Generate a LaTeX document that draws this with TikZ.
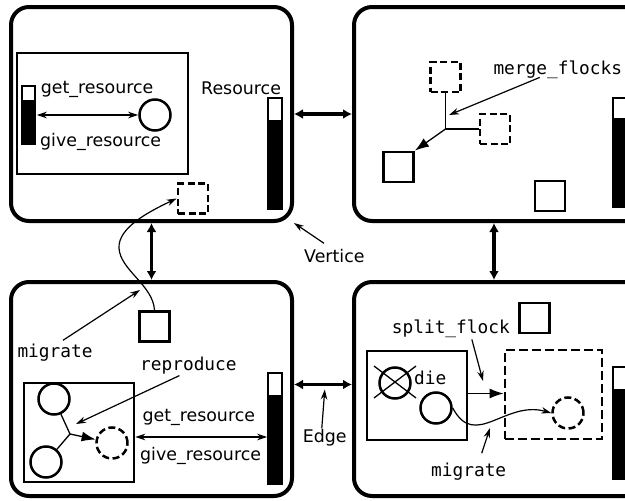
\documentclass[tikz,border=0pt]{standalone}
\usepackage{fontspec}
\setmainfont{DejaVu Sans}
\newfontfamily\monof{DejaVu Sans Mono}
\usetikzlibrary{arrows.meta,calc}
\begin{document}
\begin{tikzpicture}[x=1pt,y=-1pt,
  vbox/.style={draw, line width=4pt, rounded corners=18pt, minimum width=281pt, minimum height=214pt, inner sep=0pt},
  ibox/.style={draw, line width=2.5pt, inner sep=0pt},
  dbox/.style={draw, line width=2.8pt, inner sep=0pt, dash pattern=on 9pt off 4pt},
  sq/.style={draw, line width=2.8pt, minimum size=30pt, inner sep=0pt},
  dsq/.style={draw, line width=2.8pt, minimum size=30pt, inner sep=0pt, dash pattern=on 7pt off 3.5pt},
  circ/.style={circle, draw, line width=2.5pt, minimum size=31pt, inner sep=0pt},
  dcirc/.style={circle, draw, line width=2.5pt, minimum size=31pt, inner sep=0pt, dash pattern=on 7pt off 3.5pt},
  bar/.style={draw, line width=1.6pt, inner sep=0pt, path picture={\fill (path picture bounding box.south west) rectangle ([yshift=-#1]path picture bounding box.north east);}},
  lbl/.style={font=\fontsize{17.4}{20}\selectfont, inner sep=0pt, anchor=base west},
  mlbl/.style={font=\monof\fontsize{17.8}{20}\selectfont, inner sep=0pt, anchor=base west},
  thinarr/.style={line width=1.2pt, -{Stealth[length=10pt,width=6.5pt]}},
  dblarr/.style={line width=1.2pt, {Stealth[length=10pt,width=6.5pt]}-{Stealth[length=10pt,width=6.5pt]}},
  bigarr/.style={line width=1.3pt, -{Latex[length=14pt,width=10pt]}},
  edgearr/.style={line width=3.6pt, {Latex[length=9pt,width=10pt]}-{Latex[length=9pt,width=10pt]}},
  conn/.style={line width=1.3pt}
]
\path[use as bounding box, clip] (0,0) rectangle (625,501);

% vertices
\node[vbox] (v1) at (151.5,114) {};
\node[vbox, minimum width=346pt] (v2) at (527,114) {};
\node[vbox] (v3) at (151.5,389) {};
\node[vbox, minimum width=346pt] (v4) at (527,389) {};

% edges
\draw[edgearr] (v1.east) -- (v2.west);
\draw[edgearr] (v1.south) -- (v3.north);
\draw[edgearr] ([xshift=-33pt]v2.south) -- ([xshift=-33pt]v4.north);
\draw[edgearr] ([yshift=4.5pt]v3.east) -- ([yshift=4.5pt]v4.west);
\coordinate (em) at ($([yshift=4.5pt]v3.east)!0.5!([yshift=4.5pt]v4.west)$);

\node[lbl] (vt) at (304,262.7) {Vertice};
\draw[thinarr] (324,243.3) -- (v1.south east);
\node[lbl] (et) at (302.7,442.7) {Edge};
\draw[thinarr] ([xshift=-3pt,yshift=1pt]et.north) -- ([yshift=-5pt]em -| et.north);

% ---- top-left
\node[ibox, minimum width=171pt, minimum height=121pt] (ia) at (102.5,113.5) {};
\node[bar=14pt, minimum width=13pt, minimum height=58pt] (b1) at (28.5,115) {};
\node[circ] (c1) at (155,115) {};
\draw[dblarr] ([xshift=1pt]b1.east) -- (c1.west);
\node[lbl] (t1) at (40.7,93) {get\_resource};
\node[lbl] (t2) at (40,146) {give\_resource};
\node[lbl] (t3) at (201,94) {Resource};
\node[bar=22pt, minimum width=14pt, minimum height=111pt] (b2) at (275,153.5) {};
\node[dsq] (d1) at (193,198.5) {};

% ---- top-right
\node[dsq] (d2) at (445.5,77) {};
\node[dsq] (d3) at (495,129) {};
\node[sq] (s1) at (398.5,167) {};
\node[sq] (s2) at (550,196) {};
\node[bar=20pt, minimum width=15pt, minimum height=109pt] (b3) at (620.5,152.5) {};
\coordinate (j) at (d2.south |- d3.west);
\draw[conn] (d2.south) -- (j) -- (d3.west);
\draw[bigarr] (j) -- (s1.north east);
\node[mlbl] (t4) at (493.3,74) {merge\_flocks};
\coordinate (mfp) at (449,115);
\draw[thinarr] ([xshift=-18pt,yshift=1pt]t4.south) -- (mfp);

% ---- bottom-left
\node[sq] (s3) at (154.5,326.5) {};
\draw[thinarr] (s3.north) .. controls (153,285) and (120,270) .. (119,248)
   .. controls (118,228) and (148,212) .. (d1.west);
\node[mlbl] (t5) at (17.3,357) {migrate};
\coordinate (mgp) at (140,290);
\draw[thinarr] ([xshift=8pt,yshift=3pt]t5.north) -- (mgp);
\node[mlbl] (t6) at (140,370.7) {reproduce};
\coordinate (rpp) at (76,424);
\draw[thinarr] ([xshift=-9pt,yshift=-1pt]t6.south) -- (rpp);
\node[ibox, minimum width=110pt, minimum height=99pt] (ib) at (79,432.5) {};
\node[circ] (c2) at (54,399) {};
\node[circ] (c3) at (46,462) {};
\node[dcirc] (c4) at (112,443) {};
\coordinate (j2) at (70,434);
\draw[conn] (c2) -- (j2);
\draw[conn] (c3) -- (j2);
\draw[bigarr] (j2) -- (c4);
\node[bar=22pt, minimum width=14pt, minimum height=111pt] (b4) at (275,428.5) {};
\draw[dblarr] ([yshift=-4.5pt]ib.east) -- ([yshift=-8.5pt]b4.west);
\node[lbl] (t7) at (142.3,421.7) {get\_resource};
\node[lbl] (t8) at (140,460.7) {give\_resource};

% ---- bottom-right
\node[sq] (s4) at (534.5,318) {};
\node[mlbl] (t9) at (391.7,333) {split\_flock};
\coordinate (sfp) at (483,381);
\draw[thinarr] ([xshift=21pt,yshift=-2pt]t9.south) -- (sfp);
\node[ibox, minimum width=100pt, minimum height=89pt] (ic) at (417,395.5) {};
\node[circ] (c5) at (395,383) {};
\draw[conn] (374,366) -- (416,398);
\draw[conn] (374,398) -- (416,366);
\node[mlbl] (t10) at (414,384) {die};
\node[circ] (c6) at (436,408) {};
\node[dbox, minimum width=97pt, minimum height=89pt] (id) at (553.5,394.5) {};
\node[dcirc] (c7) at (568,413) {};
\draw[bigarr] ([yshift=2pt]ic.east) -- ([yshift=2pt]ic.east -| id.west);
\draw[thinarr] (c6.east) .. controls (475,450) and (505,400) .. (c7.west);
\node[mlbl] (t11) at (431,476) {migrate};
\coordinate (mg2) at (490,428);
\draw[thinarr] ([xshift=13pt,yshift=9pt]t11.north) -- (mg2);
\node[bar=22pt, minimum width=15pt, minimum height=112pt] (b5) at (620.5,423) {};
\end{tikzpicture}
\end{document}
